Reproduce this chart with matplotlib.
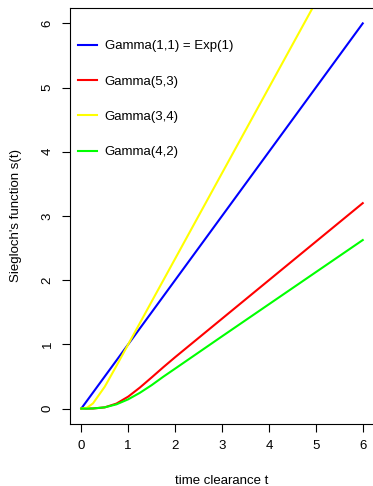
import matplotlib
matplotlib.use("Agg")
import matplotlib.pyplot as plt

plt.rcParams['font.family'] = ['Liberation Sans', 'DejaVu Sans']

# values
t = [0, 0.125, 0.25, 0.5, 0.75, 1, 1.25, 1.5, 1.75, 2, 3, 4, 5, 6]
s_exp = [0, 0.125, 0.25, 0.5, 0.75, 1, 1.25, 1.5, 1.75, 2, 3, 4, 5, 6]
s_g53 = [0, 0, 0.001, 0.019, 0.078, 0.186, 0.328, 0.485, 0.645, 0.80, 1.4, 2.0, 2.6, 3.2]
s_g34 = [0, 0.014, 0.081, 0.34, 0.665, 1.0, 1.333, 1.667, 2.0, 2.333, 3.667, 5.0, 6.333, 7.667]
s_g42 = [0, 0, 0.002, 0.019, 0.066, 0.144, 0.246, 0.365, 0.497, 0.622, 1.125, 1.625, 2.125, 2.625]

labels = ["Gamma(1,1) = Exp(1)", "Gamma(5,3)", "Gamma(3,4)", "Gamma(4,2)"]
colors = ["#0000FF", "#FF0000", "#FFFF00", "#00FF00"]
series = [s_exp, s_g53, s_g34, s_g42]

fig = plt.figure(figsize=(3.73, 4.86), dpi=100)
ax = fig.add_axes([0.1877, 0.1276, 0.815, 0.856])

for ys, c, lab in zip(series, colors, labels):
    ax.plot(t, ys, color=c, lw=1.5, label=lab)

ax.set_xlim(-0.24, 6.24)
ax.set_ylim(-0.24, 6.24)
ax.set_xticks(range(7))
ax.set_yticks(range(7))
ax.tick_params(direction='out', length=5.8, width=0.8, labelsize=9.5, pad=6)
for lab in ax.get_yticklabels():
    lab.set_rotation(90)
    lab.set_va('center')
ax.spines['right'].set_visible(False)

ax.set_xlabel("time clearance t", fontsize=9.5, labelpad=16)
ax.set_ylabel("Siegloch's function s(t)", fontsize=9.5, labelpad=14)

ax.legend(loc='upper left', frameon=False, fontsize=9.5, handlelength=1.4,
          handletextpad=0.6, labelspacing=1.75, bbox_to_anchor=(-0.003, 0.945),
          borderaxespad=0.3)

fig.savefig("out.png", dpi=100)
